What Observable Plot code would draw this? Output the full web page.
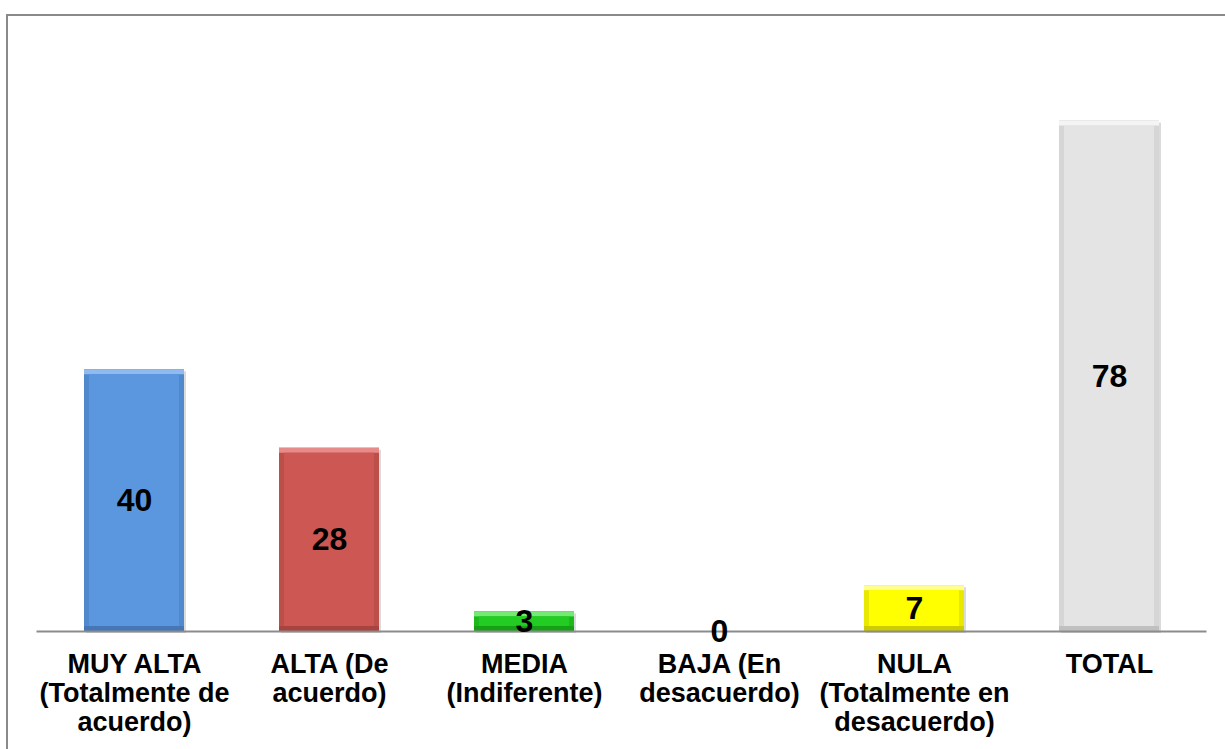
<!DOCTYPE html>
<html>
<head>
<meta charset="utf-8">
<script src="https://cdn.jsdelivr.net/npm/d3@7"></script>
<script src="https://cdn.jsdelivr.net/npm/@observablehq/plot@0.6"></script>
<style>
  html, body { margin: 0; padding: 0; background: #ffffff; }
  #chart svg { display: block; }
</style>
</head>
<body>
<div id="chart"></div>
<script>
// Survey response levels and counts
const categories = ["MUY ALTA", "ALTA", "MEDIA", "BAJA", "NULA", "TOTAL"];
const tickLabels = [
  "MUY ALTA\n(Totalmente de\nacuerdo)",
  "ALTA (De\nacuerdo)",
  "MEDIA\n(Indiferente)",
  "BAJA (En\ndesacuerdo)",
  "NULA\n(Totalmente en\ndesacuerdo)",
  "TOTAL"
];
const values = [40, 28, 3, 0, 7, 78];

// Bevelled bar palette: face, top highlight, side, bottom edge
const faceColors  = ["#5b97de", "#cd5752", "#22cc22", "#ffff00", "#ffff00", "#e4e4e4"];
const lightColors = ["#8fbbf0", "#e68b87", "#74ea74", "#ffff90", "#ffff90", "#f4f4f4"];
const sideColors  = ["#5189cd", "#bd4f4b", "#1db81d", "#e8e800", "#e8e800", "#d6d6d6"];
const darkColors  = ["#4676b6", "#a8433f", "#16a016", "#cccc00", "#cccc00", "#c0c0c0"];

const data = categories.map((c, i) => ({
  category: c,
  label: tickLabels[i],
  value: values[i],
  face: faceColors[i],
  light: lightColors[i],
  side: sideColors[i],
  dark: darkColors[i]
}));

const font = "'Liberation Sans', Arial, Helvetica, sans-serif";
const b = 5; // bevel width in px

const chart = Plot.plot({
  width: 1225,
  height: 749,
  marginLeft: 36.5,
  marginRight: 18.5,
  marginTop: 42,
  marginBottom: 118,
  style: { background: "#ffffff", fontFamily: font },
  x: { type: "band", domain: categories, paddingInner: 0.487, paddingOuter: 0.2435, axis: null },
  y: { domain: [0, 90], axis: null },
  color: { type: "identity" },
  marks: [
    // soft drop shadow
    Plot.barY(data, { x: "category", y: "value", fill: "#000000", fillOpacity: 0.14, dx: 2, dy: 2 }),
    // bottom edge
    Plot.barY(data, { x: "category", y: "value", fill: "dark" }),
    // top highlight
    Plot.barY(data, { x: "category", y: "value", fill: "light", insetBottom: b }),
    // side shading
    Plot.barY(data, { x: "category", y: "value", fill: "side", insetTop: b, insetBottom: b }),
    // face
    Plot.barY(data, { x: "category", y: "value", fill: "face", insetTop: b, insetBottom: b, insetLeft: b, insetRight: b }),
    // baseline
    Plot.ruleY([0], { stroke: "#8c8c8c", strokeWidth: 2 }),
    // value labels centred in each bar
    Plot.text(data, {
      x: "category",
      y: (d) => d.value / 2,
      text: (d) => String(d.value),
      fill: "#000000",
      fontSize: 32,
      fontWeight: "bold",
      fontFamily: font
    }),
    // category labels below the baseline
    Plot.text(data, {
      x: "category",
      y: 0,
      text: "label",
      dy: 21,
      lineAnchor: "top",
      lineHeight: 1.07,
      fill: "#000000",
      fontSize: 27,
      fontWeight: "bold",
      fontFamily: font
    })
  ]
});

// outer chart border
d3.select(chart).append("rect")
  .attr("x", 7).attr("y", 15)
  .attr("width", 1240).attr("height", 760)
  .attr("fill", "none")
  .attr("stroke", "#8a8a8a")
  .attr("stroke-width", 2);

document.getElementById("chart").appendChild(chart);
</script>
</body>
</html>
